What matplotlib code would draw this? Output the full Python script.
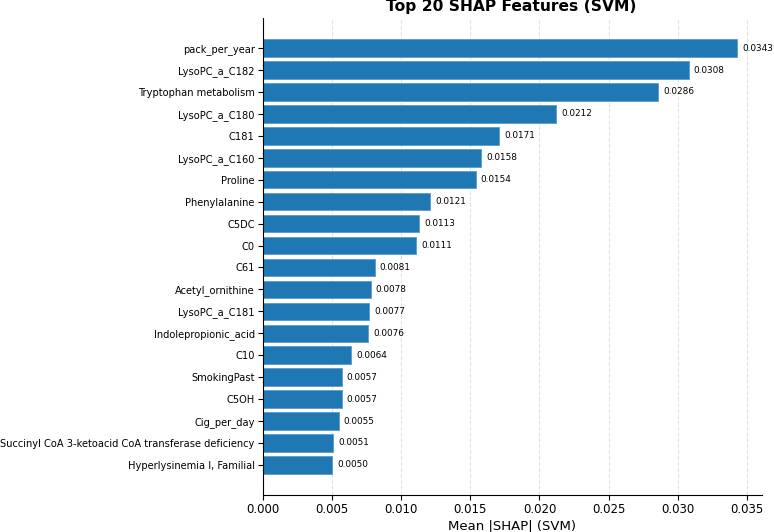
import matplotlib
matplotlib.use("Agg")
import matplotlib.pyplot as plt
import numpy as np

features = [
    "pack_per_year", "LysoPC_a_C182", "Tryptophan metabolism", "LysoPC_a_C180",
    "C181", "LysoPC_a_C160", "Proline", "Phenylalanine", "C5DC", "C0", "C61",
    "Acetyl_ornithine", "LysoPC_a_C181", "Indolepropionic_acid", "C10",
    "SmokingPast", "C5OH", "Cig_per_day",
    "Succinyl CoA 3-ketoacid CoA transferase deficiency",
    "Hyperlysinemia I, Familial",
]
shap_values = [
    0.0343, 0.0308, 0.0286, 0.0212, 0.0171, 0.0158, 0.0154, 0.0121, 0.0113,
    0.0111, 0.0081, 0.0078, 0.0077, 0.0076, 0.0064, 0.0057, 0.0057, 0.0055,
    0.0051, 0.0050,
]

fig = plt.figure(figsize=(7.74, 5.32), dpi=100)
ax = fig.add_axes([263 / 774, 1 - 495 / 532, (762 - 263) / 774, (495 - 18) / 532])

y_pos = np.arange(len(features))[::-1]
bars = ax.barh(y_pos, shap_values, height=0.8, color="#1f77b4",
               edgecolor="#5a9bd0", linewidth=0.6)
for bar, val in zip(bars, shap_values):
    ax.text(bar.get_width() + 0.00035, bar.get_y() + bar.get_height() / 2,
            f"{val:.4f}", va="center", ha="left", fontsize=6.4)

ax.set_yticks(y_pos)
ax.set_yticklabels(features, fontsize=7.1)
ax.set_ylim(-1.37, 20.37)
ax.set_xlim(0, 0.0361)
ax.set_xticks(np.arange(0, 0.0351, 0.005))
ax.tick_params(axis="x", labelsize=8.5, pad=2.5)
ax.tick_params(axis="y", pad=2.5)
ax.set_xlabel("Mean |SHAP| (SVM)", fontsize=9.5, labelpad=2)
ax.grid(axis="x", linestyle="--", alpha=0.35)
ax.set_axisbelow(True)
ax.spines["top"].set_visible(False)
ax.spines["right"].set_visible(False)

fig.text(511 / 774, 1 - 7 / 532, "Top 20 SHAP Features (SVM)", ha="center",
         va="center", fontsize=11.2, fontweight="bold")

fig.savefig("out.png", dpi=100)
